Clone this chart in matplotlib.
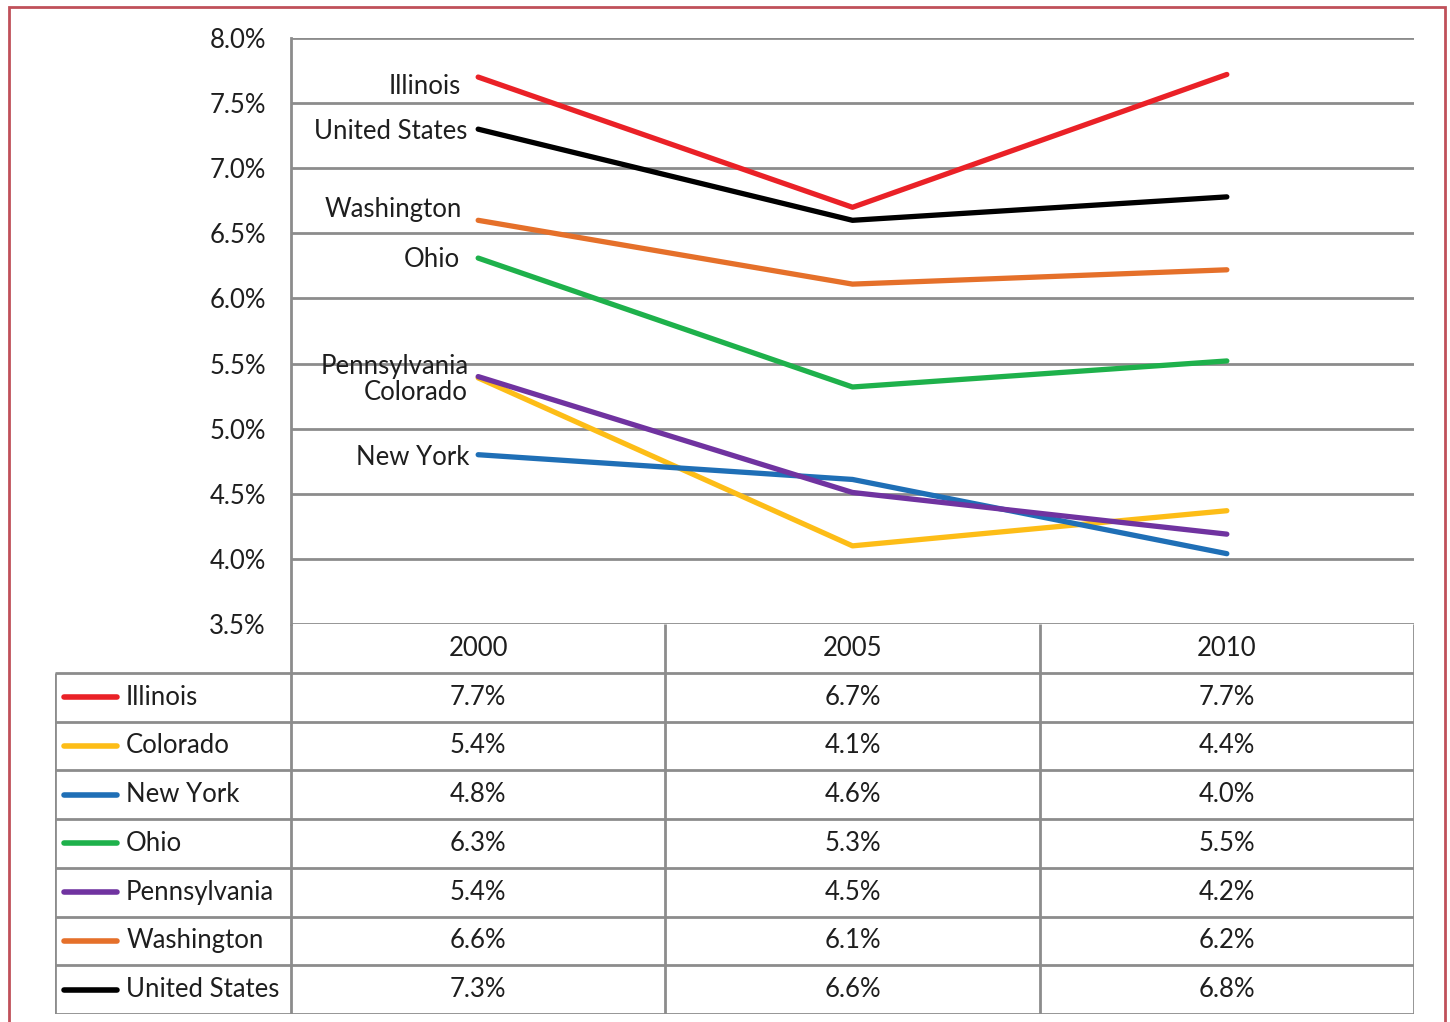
import matplotlib.pyplot as plt
from matplotlib.lines import Line2D
from matplotlib.patches import Rectangle

plt.rcParams['font.family'] = ['Lato', 'DejaVu Sans']

years = ["2000", "2005", "2010"]
states = ["Illinois", "Colorado", "New York", "Ohio",
          "Pennsylvania", "Washington", "United States"]
illinois = [7.70, 6.70, 7.72]
colorado = [5.39, 4.10, 4.37]
new_york = [4.80, 4.61, 4.04]
ohio = [6.31, 5.32, 5.52]
pennsylvania = [5.40, 4.51, 4.19]
washington = [6.60, 6.11, 6.22]
united_states = [7.30, 6.60, 6.78]
series = [illinois, colorado, new_york, ohio, pennsylvania, washington, united_states]
colors = ["#ea2127", "#fdbd17", "#1f6fb6", "#1eb14b", "#7033a0", "#e5702a", "#000000"]

# where each inline series name sits (y value, right edge in x units)
label_pos = {
    "Illinois": 7.63, "United States": 7.28, "Washington": 6.68, "Ohio": 6.30,
    "Pennsylvania": 5.48, "Colorado": 5.28, "New York": 4.78,
}
label_right = {
    "Illinois": -0.045, "United States": -0.03, "Washington": -0.043, "Ohio": -0.048,
    "Pennsylvania": -0.025, "Colorado": -0.027, "New York": -0.024,
}

W, H = 1450, 1022
fig = plt.figure(figsize=(W / 100, H / 100), dpi=100)
grid_c = "#8c8c8c"
txt_c = "#1e1e1e"
fs = 18.5

x_left, x_right = 291, 1414
y_top, y_bot = 38, 624
tab_bot = 1014
lab_left = 55

ax = fig.add_axes([x_left / W, 1 - y_bot / H, (x_right - x_left) / W, (y_bot - y_top) / H])
ax.set_xlim(-0.5, 2.5)
ax.set_ylim(3.5, 8.0)
ticks = [3.5 + 0.5 * i for i in range(10)]
ax.set_yticks(ticks)
ax.set_yticklabels([f"{t:.1f}%" for t in ticks], fontsize=fs, color=txt_c)
ax.tick_params(axis="y", length=0, pad=18)
ax.set_xticks([])
for t in ticks:
    ax.axhline(t, color=grid_c, lw=2, zorder=1)
for s in ["top", "right", "bottom"]:
    ax.spines[s].set_visible(False)
ax.spines["left"].set_color(grid_c)
ax.spines["left"].set_linewidth(2)

for name, vals, c in zip(states, series, colors):
    ax.plot(range(3), vals, color=c, lw=3.8, solid_capstyle="round", zorder=3)
    ax.text(label_right[name], label_pos[name], name, ha="right", va="center",
            fontsize=fs, color=txt_c, zorder=4)

# data table below the plot
tab = fig.add_axes([lab_left / W, 1 - tab_bot / H, (x_right - lab_left) / W, (tab_bot - y_bot) / H])
col_w = (x_right - x_left) / 3
lab_w = (x_left - lab_left) / col_w
x0 = -0.5 - lab_w
tab.set_xlim(x0, 2.5)
tab.set_ylim(8, 0)
tab.axis("off")

lk = dict(color=grid_c, lw=2, solid_capstyle="butt")
for r in range(1, 9):
    tab.add_line(Line2D([x0, 2.5], [r, r], **lk))
tab.add_line(Line2D([x0, x0], [1, 8], **lk))
for cx in [-0.5, 0.5, 1.5, 2.5]:
    tab.add_line(Line2D([cx, cx], [0, 8], **lk))

for i, yr in enumerate(years):
    tab.text(i, 0.5, yr, ha="center", va="center", fontsize=fs, color=txt_c)

for r, (name, vals, c) in enumerate(zip(states, series, colors), start=1):
    tab.add_line(Line2D([x0 + 0.025, x0 + 0.165], [r + 0.5, r + 0.5], color=c,
                        lw=4, solid_capstyle="round"))
    tab.text(x0 + 0.19, r + 0.5, name, ha="left", va="center", fontsize=fs, color=txt_c)
    for i, v in enumerate(vals):
        tab.text(i, r + 0.5, f"{v:.1f}%", ha="center", va="center", fontsize=fs, color=txt_c)

# thin frame around the whole figure
fig.patches.append(Rectangle((9 / W, -0.01), (1445 - 9) / W, 1.01 - 7 / H,
                             transform=fig.transFigure, fill=False,
                             edgecolor="#c0505a", lw=2))

fig.savefig("out.png", dpi=100)
